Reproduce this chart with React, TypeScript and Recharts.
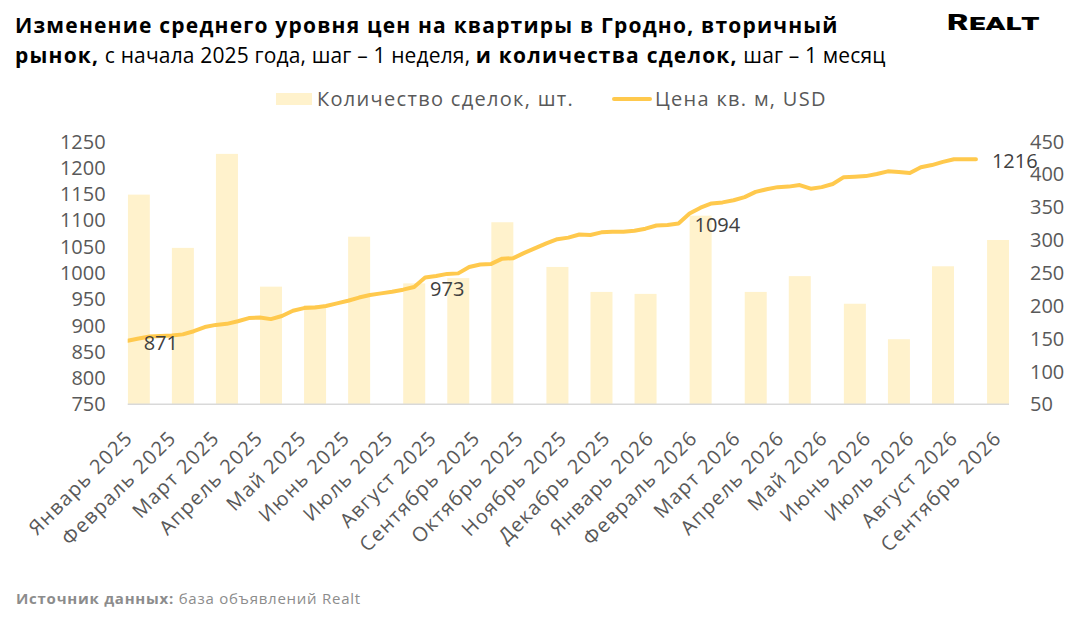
import React from "react";
import { ComposedChart, Bar, Line, XAxis, YAxis, LabelList } from "recharts";

// Weekly average price per sq. m (USD), week index 0..77
const priceValues: number[] = [
  871, 875, 879, 880, 881, 883, 889, 897, 901, 903,
  908, 914, 915, 912, 918, 928, 933, 934, 937, 942,
  947, 953, 958, 961, 964, 968, 973, 991, 994, 998,
  999, 1011, 1016, 1017, 1027, 1028, 1038, 1047, 1056, 1064,
  1067, 1073, 1072, 1077, 1078, 1078, 1080, 1084, 1090, 1091,
  1094, 1113, 1124, 1132, 1134, 1138, 1144, 1154, 1159, 1163,
  1164, 1167, 1160, 1163, 1169, 1182, 1183, 1184, 1188, 1193,
  1192, 1190, 1201, 1205, 1211, 1216, 1216, 1216,
];

// Monthly deal counts and the week on which each bar is drawn
const dealWeeks: number[] = [1, 5, 9, 13, 17, 21, 26, 30, 34, 39, 43, 47, 52, 57, 61, 66, 70, 74, 79];
const dealValues: number[] = [369, 288, 431, 229, 201, 305, 234, 242, 327, 259, 221, 218, 337, 221, 245, 203, 149, 260, 300];

// Weeks whose price gets a data label
const labeledWeeks: number[] = [0, 26, 50, 77];

const monthLabels: string[] = [
  "Январь 2025", "Февраль 2025", "Март 2025", "Апрель 2025", "Май 2025", "Июнь 2025",
  "Июль 2025", "Август 2025", "Сентябрь 2025", "Октябрь 2025", "Ноябрь 2025", "Декабрь 2025",
  "Январь 2026", "Февраль 2026", "Март 2026", "Апрель 2026", "Май 2026", "Июнь 2026",
  "Июль 2026", "Август 2026", "Сентябрь 2026",
];

const leftTicks: number[] = [750, 800, 850, 900, 950, 1000, 1050, 1100, 1150, 1200, 1250];
const rightTicks: number[] = [50, 100, 150, 200, 250, 300, 350, 400, 450];

const TOTAL_WEEKS = 80;
const BAR_WIDTH = 22;
const monthTickPositions = monthLabels.map((_, i) => 0.57 + i * 3.943);

const data = Array.from({ length: TOTAL_WEEKS }, (_, w) => {
  const di = dealWeeks.indexOf(w);
  return {
    w,
    price: w < priceValues.length ? priceValues[w] : null,
    deals: di >= 0 ? dealValues[di] : null,
  };
});

const FONT = "'Open Sans', sans-serif";
const GRAY = "#595959";
const LINE_COLOR = "#FFC94D";
const BAR_COLOR = "#FFF2CC";

const MonthTick = (props: any) => {
  const { x, y, payload } = props;
  const idx = monthTickPositions.findIndex((p) => Math.abs(p - payload.value) < 0.01);
  const label = idx >= 0 ? monthLabels[idx] : "";
  const ty = y + 27;
  return (
    <text
      x={x}
      y={ty}
      transform={`rotate(-45, ${x}, ${ty})`}
      textAnchor="end"
      fill={GRAY}
      fontSize={20}
      fontFamily={FONT}
      letterSpacing={1.3}
    >
      {label}
    </text>
  );
};

const PriceLabel = (props: any) => {
  const { x, y, value, index } = props;
  if (value == null || !labeledWeeks.includes(index)) return null;
  return (
    <text x={x + 16} y={y + 9} fill="#404040" fontSize={20} fontFamily={FONT} textAnchor="start">
      {value}
    </text>
  );
};

// Bars are centred on their week; width fixed to two weeks
const WideBar = (props: any) => {
  const { x, y, width, height, fill } = props;
  if (height == null || height <= 0) return null;
  const cx = x + width / 2;
  return <rect x={cx - BAR_WIDTH / 2} y={y} width={BAR_WIDTH} height={height} fill={fill} />;
};

export default function App() {
  return (
    <div
      style={{
        position: "absolute",
        left: 0,
        top: 0,
        width: 1080,
        height: 618,
        background: "#fff",
        fontFamily: FONT,
        overflow: "hidden",
      }}
    >
      <div style={{ position: "absolute", left: 15, top: 10, fontSize: 21, lineHeight: "30px", color: "#000", whiteSpace: "nowrap" }}>
        <div style={{ fontWeight: 700, letterSpacing: 1.2 }}>Изменение среднего уровня цен на квартиры в Гродно, вторичный</div>
        <div style={{ letterSpacing: 0.15 }}>
          <b style={{ letterSpacing: 1.2 }}>рынок,</b> с начала 2025 года, шаг – 1 неделя,{" "}
          <b style={{ letterSpacing: 1.2 }}>и количества сделок,</b> шаг – 1 месяц
        </div>
      </div>
      <div
        style={{
          position: "absolute",
          left: 947,
          top: 12,
          fontSize: 22,
          lineHeight: "22px",
          fontWeight: 900,
          fontVariant: "small-caps",
          letterSpacing: 0.5,
          color: "#000",
          fontFamily: "Roboto, sans-serif",
          transform: "scaleX(1.5)",
          transformOrigin: "left top",
          whiteSpace: "nowrap",
        }}
      >
        Realt
      </div>

      {/* Legend */}
      <div style={{ position: "absolute", left: 276, top: 93, width: 36, height: 12, background: BAR_COLOR }} />
      <div style={{ position: "absolute", left: 317, top: 85, fontSize: 20, lineHeight: "28px", color: GRAY, letterSpacing: 1.3, whiteSpace: "nowrap" }}>
        Количество сделок, шт.
      </div>
      <div style={{ position: "absolute", left: 612, top: 97, width: 40, height: 4, borderRadius: 2, background: LINE_COLOR }} />
      <div style={{ position: "absolute", left: 655, top: 85, fontSize: 20, lineHeight: "28px", color: GRAY, letterSpacing: 1.3, whiteSpace: "nowrap" }}>
        Цена кв. м, USD
      </div>

      <div style={{ position: "absolute", left: 0, top: 0 }}>
        <ComposedChart
          width={1080}
          height={618}
          data={data}
          margin={{ top: 141.4, right: 0, bottom: 63.7, left: 0 }}
        >
          <XAxis
            dataKey="w"
            type="number"
            domain={[0, TOTAL_WEEKS]}
            ticks={monthTickPositions}
            interval={0}
            tick={<MonthTick />}
            tickLine={false}
            axisLine={{ stroke: "#d9d9d9", strokeWidth: 1.5 }}
            height={150}
            allowDataOverflow
          />
          <YAxis
            yAxisId="left"
            orientation="left"
            domain={[750, 1250]}
            ticks={leftTicks}
            interval={0}
            width={127.7}
            tickLine={false}
            axisLine={false}
            tickSize={0}
            tickMargin={22}
            tick={{ fill: GRAY, fontSize: 20, fontFamily: FONT }}
            allowDataOverflow
          />
          <YAxis
            yAxisId="right"
            orientation="right"
            domain={[50, 450]}
            ticks={rightTicks}
            interval={0}
            width={71}
            tickLine={false}
            axisLine={false}
            tickSize={0}
            tickMargin={21}
            tick={{ fill: GRAY, fontSize: 20, fontFamily: FONT, textAnchor: "start" }}
            allowDataOverflow
          />
          <Bar yAxisId="right" dataKey="deals" fill={BAR_COLOR} shape={<WideBar />} isAnimationActive={false} />
          <Line
            yAxisId="left"
            dataKey="price"
            type="linear"
            stroke={LINE_COLOR}
            strokeWidth={4}
            strokeLinejoin="round"
            strokeLinecap="round"
            dot={false}
            activeDot={false}
            connectNulls={false}
            isAnimationActive={false}
          >
            <LabelList dataKey="price" content={<PriceLabel />} />
          </Line>
        </ComposedChart>
      </div>

      <div style={{ position: "absolute", left: 16, top: 588, fontSize: 15, lineHeight: "20px", color: "#8c8c8c", letterSpacing: 0.75, whiteSpace: "nowrap" }}>
        <b>Источник данных:</b> база объявлений Realt
      </div>
    </div>
  );
}
